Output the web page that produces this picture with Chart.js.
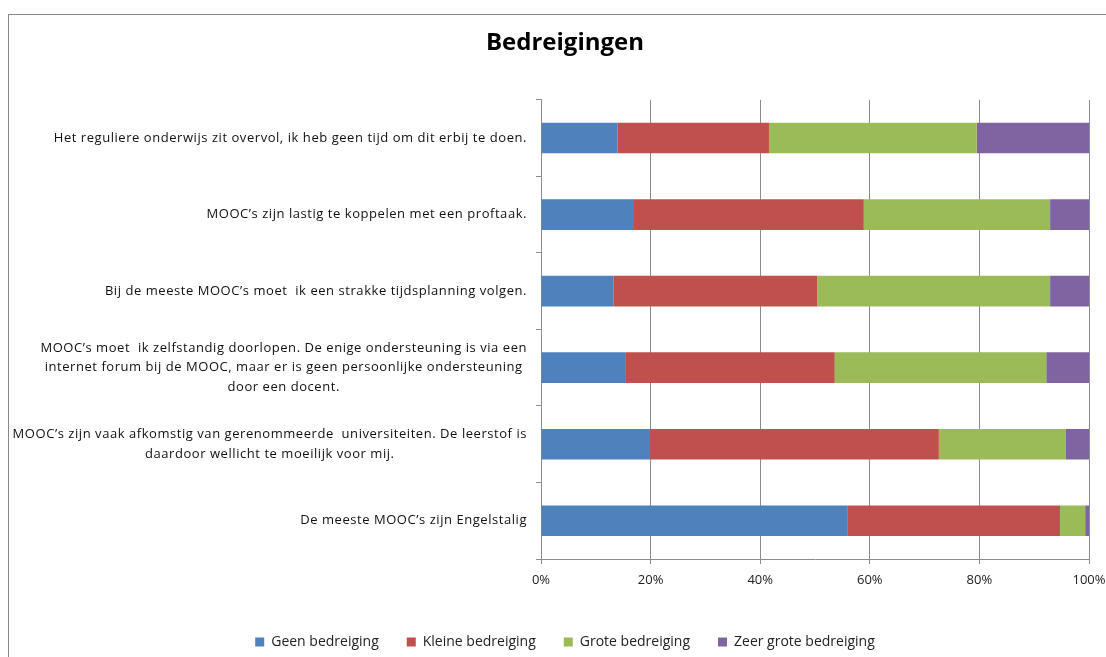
<!DOCTYPE html>
<html>
<head>
<meta charset="utf-8">
<script src="https://cdn.jsdelivr.net/npm/chart.js@4.4.0/dist/chart.umd.min.js"></script>
<style>
  html, body { margin: 0; padding: 0; background: #fff; overflow: hidden; width: 1106px; height: 657px; }
  #wrap { position: absolute; left: 8px; top: 14px; width: 1112px; height: 644px; border-left: 1px solid #8a8a8a; border-top: 1px solid #8a8a8a; }
  #c { display: block; }
</style>
</head>
<body>
<div id="wrap"><canvas id="c" width="1112" height="644"></canvas></div>
<script>
const categories = [
  "Het reguliere onderwijs zit overvol, ik heb geen tijd om dit erbij te doen.",
  "MOOC\u2019s zijn lastig te koppelen met een proftaak.",
  "Bij de meeste MOOC\u2019s moet  ik een strakke tijdsplanning volgen.",
  ["MOOC\u2019s moet  ik zelfstandig doorlopen. De enige ondersteuning is via een",
   "internet forum bij de MOOC, maar er is geen persoonlijke ondersteuning",
   "door een docent."],
  ["MOOC\u2019s zijn vaak afkomstig van gerenommeerde  universiteiten. De leerstof is",
   "daardoor wellicht te moeilijk voor mij."],
  "De meeste MOOC\u2019s zijn Engelstalig"
];
const seriesNames = ["Geen bedreiging", "Kleine bedreiging", "Grote bedreiging", "Zeer grote bedreiging"];
const geenBedreiging      = [14.0, 16.8, 13.2, 15.5, 19.9, 56.0];
const kleineBedreiging    = [27.6, 42.1, 37.2, 38.1, 52.7, 38.7];
const groteBedreiging     = [37.9, 34.0, 42.5, 38.6, 23.2, 4.6];
const zeerGroteBedreiging = [20.5, 7.1, 7.1, 7.8, 4.2, 0.7];
const xTicks = [0, 20, 40, 60, 80, 100];

const colors = ["#4F81BD", "#C0504D", "#9BBB59", "#8064A2"];
const seriesValues = [geenBedreiging, kleineBedreiging, groteBedreiging, zeerGroteBedreiging];

const FONT = "'Open Sans', sans-serif";
const LABEL_RIGHT = 518;

const yLabelPlugin = {
  id: 'yLabels',
  afterDraw(chart) {
    const ctx = chart.ctx;
    const ys = chart.scales.y;
    ctx.save();
    ctx.font = "13px " + FONT;
    try { ctx.letterSpacing = "0.55px"; } catch (e) {}
    ctx.fillStyle = "#111";
    ctx.textBaseline = "middle";
    ctx.textAlign = "center";
    const lh = 19.5;
    categories.forEach((lab, i) => {
      const lines = Array.isArray(lab) ? lab : [lab];
      const maxW = Math.max(...lines.map(l => ctx.measureText(l).width));
      const cx = LABEL_RIGHT - maxW / 2;
      const yc = ys.getPixelForValue(i);
      const y0 = yc - (lines.length - 1) * lh / 2;
      lines.forEach((l, k) => ctx.fillText(l, cx, y0 + k * lh));
    });
    ctx.restore();
  }
};

new Chart(document.getElementById('c'), {
  type: 'bar',
  data: {
    labels: categories,
    datasets: seriesNames.map((n, i) => ({
      label: n,
      data: seriesValues[i],
      backgroundColor: colors[i],
      borderWidth: 0,
      barPercentage: 0.4,
      categoryPercentage: 1.0
    }))
  },
  options: {
    indexAxis: 'y',
    responsive: false,
    animation: false,
    layout: { padding: 0 },
    plugins: {
      title: {
        display: true,
        text: 'Bedreigingen',
        color: '#000',
        font: { family: FONT, size: 24, weight: 'bold' },
        padding: { top: 14, bottom: 42 }
      },
      legend: {
        position: 'bottom',
        labels: {
          boxWidth: 9, boxHeight: 9, padding: 28,
          color: '#222',
          font: { family: FONT, size: 14 }
        }
      },
      tooltip: { enabled: false }
    },
    scales: {
      x: {
        stacked: true,
        min: 0, max: 100,
        afterBuildTicks(scale) { scale.ticks = xTicks.map(v => ({ value: v })); },
        ticks: {
          callback: v => v + '%',
          color: '#222',
          font: { family: FONT, size: 13 },
          padding: 8
        },
        grid: { color: '#8c8c8c', tickLength: 5, drawTicks: true },
        border: { display: true, color: '#8c8c8c' },
        afterFit(scale) { scale.height = 48; scale.paddingRight = 32; scale.paddingLeft = 0; }
      },
      y: {
        stacked: true,
        ticks: { display: false },
        grid: { drawOnChartArea: false, drawTicks: true, tickLength: 5, offset: true, color: '#8c8c8c' },
        border: { display: true, color: '#8c8c8c' },
        afterFit(scale) { scale.width = 532; }
      }
    }
  },
  plugins: [yLabelPlugin]
});
</script>
</body>
</html>
